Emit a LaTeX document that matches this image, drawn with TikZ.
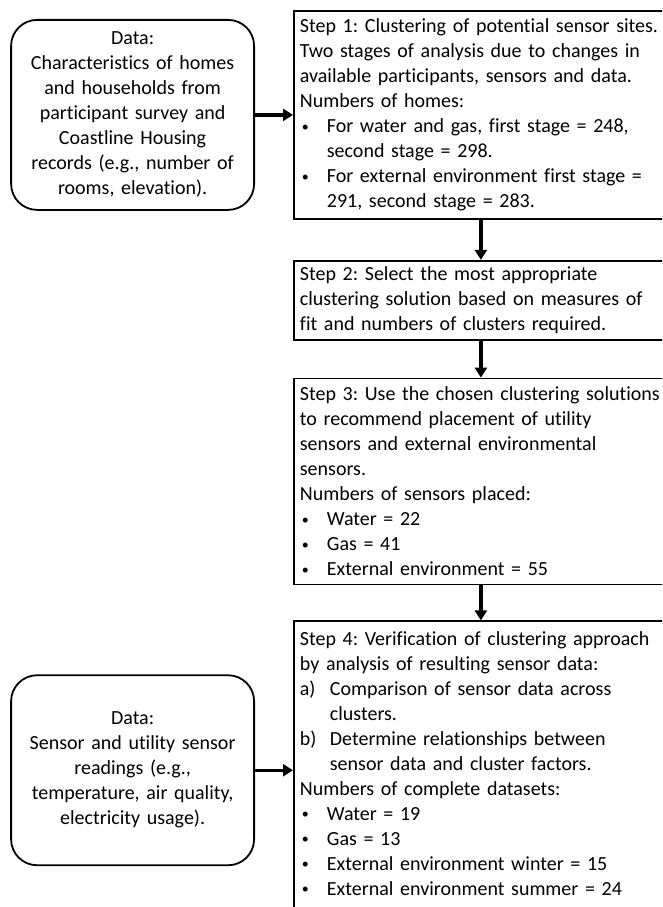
\documentclass[tikz,border=0pt]{standalone}
\usepackage{fontspec}
\setmainfont{Carlito}[RawFeature={-liga;-clig;-calt;-dlig}]
\usetikzlibrary{arrows.meta,positioning}
\newcommand{\bpt}[1]{\makebox[27pt][l]{\hspace{2pt}\raisebox{1.5pt}{\fontsize{14}{14}\selectfont\textbullet}}#1}
\newcommand{\bind}{\hspace*{27pt}}
\newcommand{\lpt}[2]{\makebox[30pt][l]{#1}#2}
\newcommand{\lind}{\hspace*{30pt}}
\frenchspacing

\begin{document}
\begin{tikzpicture}[>={Triangle[length=10pt,width=12pt]},
  stepbox/.style={draw, line width=1.8pt, text width=362pt, inner xsep=6pt,
    inner ysep=5pt, align=left, font=\fontsize{20}{25}\selectfont},
  databox/.style={draw, line width=1.8pt, rounded corners=26pt,
    minimum width=243pt, minimum height=190pt, text width=232pt,
    align=center, font=\fontsize{20}{25}\selectfont},
  flow/.style={->, line width=3.2pt}]
  \useasboundingbox (0,0) rectangle (662pt,-907pt);
  \clip (0,0) rectangle (662pt,-907pt);
  % steps
  \node (s1) [stepbox, minimum height=208pt, anchor=north west] at (293pt,-10pt)
    {Step 1: Clustering of potential sensor sites.\\
     Two stages of analysis due to changes in\\
     available participants, sensors and data.\\
     Numbers of homes:\\
     \bpt{For water and gas, first stage = 248,}\\
     \bind second stage = 298.\\
     \bpt{For external environment first stage =}\\
     \bind 291, second stage = 283.};
  \node (s2) [stepbox, minimum height=79pt, below=40pt of s1]
    {Step 2: Select the most appropriate\\
     clustering solution based on measures of\\
     fit and numbers of clusters required.};
  \node (s3) [stepbox, minimum height=206pt, below=37pt of s2]
    {\mbox{Step 3: Use the chosen clustering solutions}\\
     to recommend placement of utility\\
     sensors and external environmental\\
     sensors.\\
     Numbers of sensors placed:\\
     \bpt{Water = 22}\\
     \bpt{Gas = 41}\\
     \bpt{External environment = 55}};
  \node (s4) [stepbox, inner ysep=10pt, below=35pt of s3]
    {Step 4: Verification of clustering approach\\
     by analysis of resulting sensor data:\\
     \lpt{a)}{Comparison of sensor data across}\\
     \lind clusters.\\
     \lpt{b)}{Determine relationships between}\\
     \lind sensor data and cluster factors.\\
     Numbers of complete datasets:\\
     \bpt{Water = 19}\\
     \bpt{Gas = 13}\\
     \bpt{External environment winter = 15}\\
     \bpt{External environment summer = 24}\rule[-14pt]{0pt}{0pt}};
  % inputs
  \node (d1) [databox, left=38pt of s1]
    {Data:\\Characteristics of homes\\and households from\\participant survey and\\
     Coastline Housing\\records (e.g., number of\\rooms, elevation).};
  \node (d2) [databox, left=38pt of s4]
    {Data:\\Sensor and utility sensor\\readings (e.g.,\\
     temperature, air quality,\\electricity usage).};
  \draw[flow] (d1.east) -- (d1.east -| s1.west);
  \draw[flow] (d2.east) -- (d2.east -| s4.west);
  \draw[flow] (s1) -- (s2);
  \draw[flow] (s2) -- (s3);
  \draw[flow] (s3) -- (s4);
\end{tikzpicture}
\end{document}
